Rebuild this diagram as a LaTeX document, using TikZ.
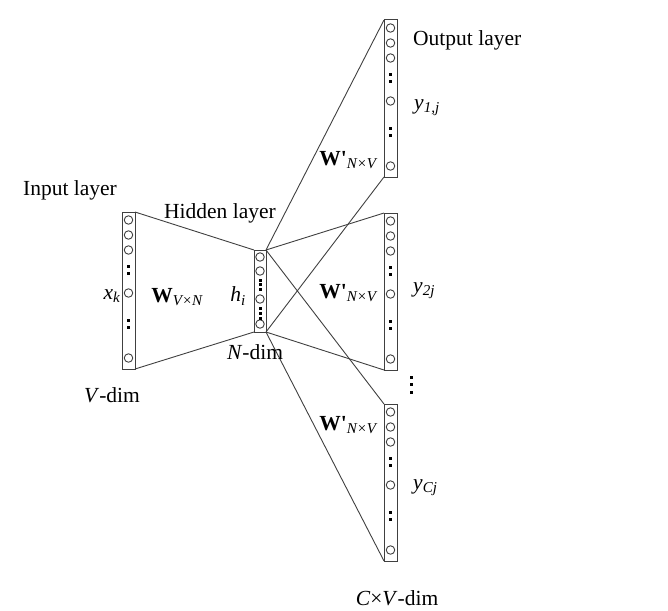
\documentclass[tikz,border=0pt]{standalone}
\usepackage{fontspec}
\setmainfont{Liberation Serif}
\newcommand\vlayer[3]{%
  \node[lay, anchor=north] (#1) at (#2,#3) {};
  \foreach \r [count=\i] in {8,23,38,81,146} {\node[neuron] (#1-c\i) at (#2,#3+\r) {};}
  \foreach \r [count=\i] in {54,61,108,115} {\node[dotm] (#1-d\i) at (#2,#3+\r) {};}
}
\newcommand\sub[1]{\textsubscript{\itshape #1}}
\newcommand\Wp{\textbf{W\textquotesingle}}
\begin{document}
\begin{tikzpicture}[x=1pt,y=-1pt,
  lay/.style={draw=black!75, line width=1pt, rectangle, inner sep=0pt, outer sep=0pt, minimum width=13pt, minimum height=157pt},
  neuron/.style={draw=black!75, circle, line width=0.9pt, inner sep=0pt, minimum size=8.5pt},
  dotm/.style={fill=black, rectangle, inner sep=0pt, minimum size=3pt},
  conn/.style={draw=black!75, line width=0.9pt},
  lbl/.style={font=\fontsize{21.5}{25}\selectfont, inner sep=0pt, text=black}]
\useasboundingbox (0,0) rectangle (668,610);

% layers
\vlayer{in}{128.5}{212}
\vlayer{o1}{390.5}{20}
\vlayer{o2}{390.5}{213}
\vlayer{o3}{390.5}{404}

\node[lay, anchor=north, minimum width=12pt, minimum height=82pt] (hid) at (260,250) {};
\foreach \r [count=\i] in {7,21,49,74} {\node[neuron] (hid-c\i) at (260,250+\r) {};}
\foreach \r [count=\i] in {30,34.5,39,58,63,68} {\node[dotm] (hid-d\i) at (260,250+\r) {};}

% vertical dots between output layers
\foreach \r [count=\i] in {377,384.5,392} {\node[dotm] (vd\i) at (411,\r) {};}

% connectors
\draw[conn] (in.north east) -- (hid.north west);
\draw[conn] (in.south east) -- (hid.south west);
\foreach \o in {o1,o2,o3} {
  \draw[conn] (hid.north east) -- (\o.north west);
  \draw[conn] (hid.south east) -- (\o.south west);
}

% labels
\node[lbl] (tin) at (70,190) {Input layer};
\node[lbl] (thid) at (220,213) {Hidden layer};
\node[lbl, anchor=west] (tout) at (413,40) {Output layer};
\node[lbl] (tvd) at (112,395) {\textit{V}-dim};
\node[lbl] (tnd) at (255,352) {\textit{N}-dim};
\node[lbl] (tcd) at (397,598) {\textit{C}×\textit{V}-dim};
\node[lbl] (txk) at (112,296) {\textit{x}\sub{k}};
\node[lbl] (thi) at (238,296) {\textit{h}\sub{i}};
\node[lbl] (tw) at (177,297) {\textbf{W}\sub{V×N}};
\node[lbl] (tw1) at (348,160) {\Wp\sub{N×V}};
\node[lbl] (tw2) at (348,293) {\Wp\sub{N×V}};
\node[lbl] (tw3) at (348,425) {\Wp\sub{N×V}};
\node[lbl, anchor=west] (ty1) at (414,108) {\textit{y}\sub{1,j}};
\node[lbl, anchor=west] (ty2) at (413,291) {\textit{y}\sub{2j}};
\node[lbl, anchor=west] (ty3) at (413,488) {\textit{y}\sub{Cj}};
\end{tikzpicture}
\end{document}
